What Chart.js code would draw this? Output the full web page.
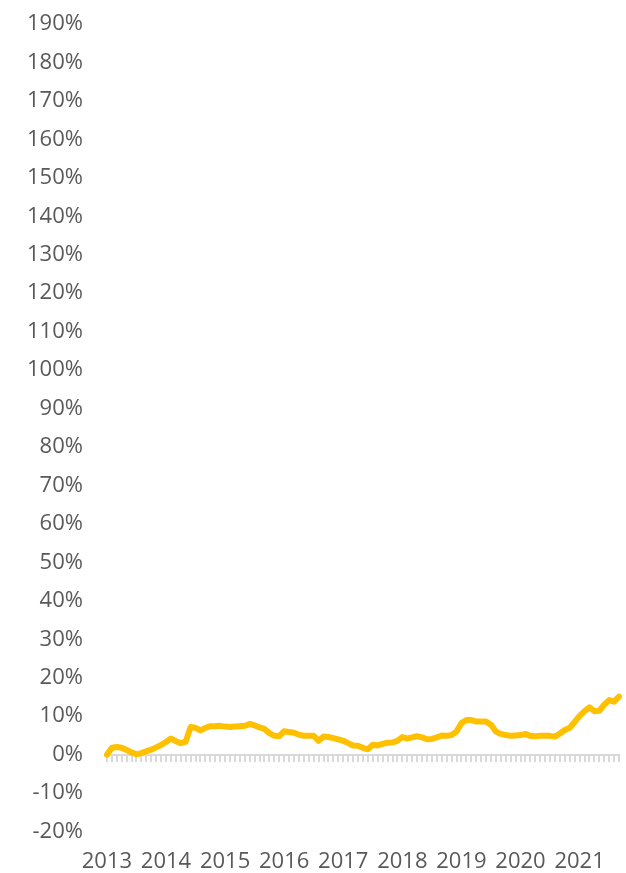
<!DOCTYPE html>
<html>
<head>
<meta charset="utf-8">
<script src="https://cdn.jsdelivr.net/npm/chart.js@4/dist/chart.umd.min.js"></script>
<style>
  html, body { margin: 0; padding: 0; background: #fff; }
  #wrap { width: 626px; height: 873px; }
</style>
</head>
<body>
<div id="wrap"><canvas id="myChart"></canvas></div>
<script>
// monthly change, %, Jan 2013 .. Sep 2021
const startYear = 2013;
const values = [
  0.0, 1.8, 2.0, 1.8, 1.2, 0.6, 0.1, 0.4, 0.9, 1.3, 1.9, 2.5,
  3.3, 4.2, 3.5, 3.0, 3.4, 7.2, 7.0, 6.3, 7.0, 7.4, 7.4, 7.5,
  7.3, 7.2, 7.3, 7.4, 7.5, 8.0, 7.6, 7.1, 6.7, 5.6, 4.9, 4.8,
  6.1, 5.9, 5.7, 5.2, 4.9, 4.9, 4.9, 3.6, 4.7, 4.6, 4.3, 4.0,
  3.6, 3.0, 2.4, 2.3, 1.8, 1.4, 2.6, 2.4, 2.8, 3.1, 3.2, 3.6,
  4.6, 4.2, 4.5, 4.8, 4.5, 4.0, 4.1, 4.5, 5.0, 4.9, 5.1, 6.0,
  8.2, 9.0, 9.0, 8.6, 8.6, 8.6, 7.8, 6.0, 5.4, 5.1, 4.9, 5.0,
  5.1, 5.4, 4.9, 4.8, 4.9, 4.9, 4.9, 4.7, 5.5, 6.4, 7.0, 8.5,
  10.1, 11.3, 12.3, 11.3, 11.4, 13.0, 14.2, 13.8, 15.1
];

let months = [];
for (let i = 0; i < values.length; i++) {
    const y = startYear + Math.floor(i / 12);
    const m = (i % 12) + 1;
    months.push(y + '-' + (m < 10 ? '0' + m : m));
}

const yMin = -20;
const yMax = 190;
const yStep = 10;

const labelFont = { family: 'Open Sans', size: 22 };
const labelColor = '#595959';

const data = {
    labels: months,
    datasets: [{
        label: 'change',
        data: values,
        borderColor: '#FFC000',
        backgroundColor: '#FFC000',
        borderWidth: 6,
        pointRadius: 0,
        borderJoinStyle: 'round',
        borderCapStyle: 'round',
        tension: 0,
        xAxisID: 'x',
        yAxisID: 'y'
    }]
};

// gaps between labels and plot come from hidden tick length (padding counts twice in fit)
const config = {
    type: 'line',
    data: data,
    options: {
        responsive: true,
        maintainAspectRatio: false,
        animation: false,
        layout: { padding: { left: 27, right: 7, top: 24, bottom: -2 } },
        plugins: {
            legend: { display: false },
            tooltip: { enabled: false }
        },
        scales: {
            // zero line with monthly tick marks
            x: {
                type: 'category',
                position: { y: 0 },
                offset: false,
                grid: {
                    display: true,
                    drawOnChartArea: false,
                    drawTicks: true,
                    tickLength: 6,
                    color: '#d9d9d9',
                    lineWidth: 2
                },
                border: { display: true, color: '#d9d9d9', width: 2 },
                ticks: { display: false, autoSkip: false }
            },
            // year labels along the bottom
            x2: {
                type: 'category',
                position: 'bottom',
                offset: false,
                grid: { display: false, drawTicks: true, tickLength: 17 },
                border: { display: false },
                ticks: {
                    autoSkip: false,
                    maxRotation: 0,
                    padding: 0,
                    color: labelColor,
                    font: labelFont,
                    callback: function (val, idx) {
                        const lab = months[idx];
                        return lab.endsWith('-01') ? lab.slice(0, 4) : '';
                    }
                }
            },
            y: {
                min: yMin,
                max: yMax,
                grid: { display: false, drawTicks: true, tickLength: 24 },
                border: { display: false },
                ticks: {
                    stepSize: yStep,
                    padding: 0,
                    color: labelColor,
                    font: labelFont,
                    callback: function (v) { return v + '%'; }
                }
            }
        }
    }
};

const myChart = new Chart(document.getElementById('myChart'), config);
</script>
</body>
</html>
